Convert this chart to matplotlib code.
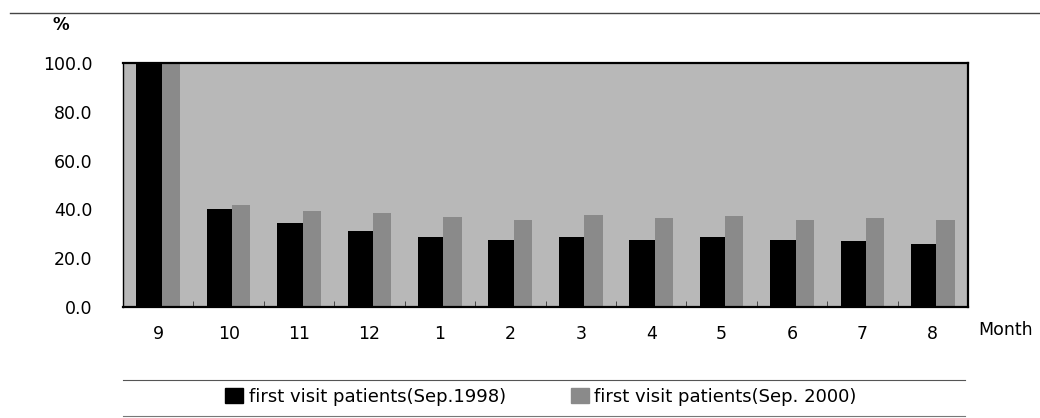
import numpy as np
import matplotlib.pyplot as plt
from matplotlib.lines import Line2D
from matplotlib.patches import Patch

# monthly share of first visit patients (%)
months = ['9', '10', '11', '12', '1', '2', '3', '4', '5', '6', '7', '8']
sep1998 = [100.0, 40.3, 34.3, 31.0, 28.6, 27.6, 28.6, 27.6, 28.6, 27.6, 27.2, 26.0]
sep2000 = [100.0, 42.0, 39.3, 38.6, 36.8, 35.5, 37.5, 36.4, 37.2, 35.5, 36.4, 35.6]
yticks = [0, 20, 40, 60, 80, 100]

plt.rcParams['font.family'] = ['DejaVu Sans']

fig = plt.figure(figsize=(10.4, 4.18), dpi=100)
ax = fig.add_axes([0.1183, 0.2656, 0.8125, 0.5837])

x = np.arange(len(months))
ax.bar(x - 0.13, sep1998, width=0.36, color='#000000', zorder=2)
ax.bar(x + 0.18, sep2000, width=0.26, color='#8a8a8a', zorder=2)

ax.set_xlim(-0.5, len(months) - 0.5)
ax.set_ylim(0, 100)
ax.set_facecolor('#b8b8b8')

ax.set_yticks(yticks)
ax.set_yticklabels([f'{v:.1f}' for v in yticks], fontsize=12.5)
ax.set_xticks(x)
ax.set_xticklabels(months, fontsize=12.5)
ax.tick_params(axis='x', length=0, pad=13)
ax.tick_params(axis='y', length=0, pad=22)
# small inward ticks at group boundaries
ax.set_xticks(np.arange(-0.5, len(months)), minor=True)
ax.tick_params(axis='x', which='minor', direction='in', length=4, color='#333333')

for s in ax.spines.values():
    s.set_linewidth(1.6)
    s.set_color('black')
ax.spines['left'].set_linewidth(1.0)

fig.text(0.058, 0.94, '%', fontsize=12, ha='center', va='center', fontweight='bold')
fig.text(0.941, 0.21, 'Month', fontsize=12.5, ha='left', va='center')

handles = [Patch(color='#000000'), Patch(color='#8a8a8a')]
labels = ['first visit patients(Sep.1998)', 'first visit patients(Sep. 2000)']
fig.legend(handles, labels, loc='center', bbox_to_anchor=(0.52, 0.05), ncol=2,
           frameon=False, fontsize=13, handlelength=1.0, handleheight=0.9,
           handletextpad=0.3, columnspacing=3.6)

# scanned rule lines
fig.add_artist(Line2D([0.01, 1.0], [0.968, 0.968], color='#444444', lw=1.0))
fig.add_artist(Line2D([0.118, 0.928], [0.091, 0.091], color='#555555', lw=0.8))
fig.add_artist(Line2D([0.118, 0.928], [0.004, 0.004], color='#777777', lw=0.8))

fig.savefig('out.png', dpi=100)
